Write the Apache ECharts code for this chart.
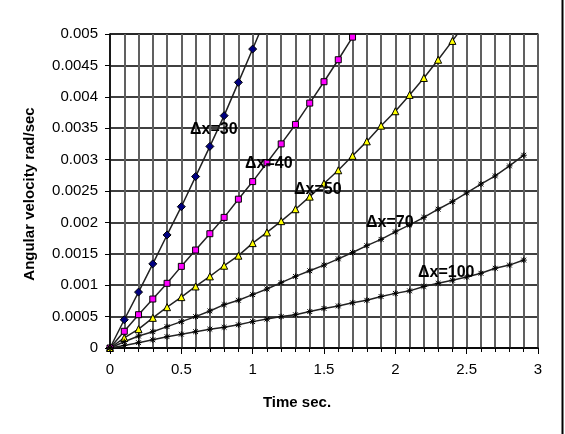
<!DOCTYPE html>
<html>
<head>
<meta charset="utf-8">
<script src="https://cdn.jsdelivr.net/npm/echarts@6/dist/echarts.min.js"></script>
<style>
  html, body { margin: 0; padding: 0; background: #fff; }
  #main { width: 565px; height: 434px; }
</style>
</head>
<body>
<div id="main"></div>
<script>
// time values (sec)
var times = [0, 0.1, 0.2, 0.3, 0.4, 0.5, 0.6, 0.7, 0.8, 0.9, 1.0, 1.1, 1.2, 1.3, 1.4,
             1.5, 1.6, 1.7, 1.8, 1.9, 2.0, 2.1, 2.2, 2.3, 2.4, 2.5, 2.6, 2.7, 2.8, 2.9];

// angular velocity (rad/sec) for each grid spacing
var dx30 = [0, 0.00045, 0.00089, 0.00134, 0.0018, 0.00225, 0.00273, 0.00321, 0.0037, 0.00423,
            0.00476, 0.0053];
var dx40 = [0, 0.000266, 0.00053, 0.00078, 0.00103, 0.0013, 0.00156, 0.00182, 0.00208, 0.00237,
            0.00265, 0.00295, 0.00325, 0.00356, 0.0039, 0.00424, 0.00459, 0.00495, 0.0053];
var dx50 = [0, 0.00016, 0.0003, 0.00048, 0.00065, 0.00081, 0.00098, 0.00114, 0.00131, 0.00147,
            0.00167, 0.00184, 0.00202, 0.00221, 0.00241, 0.00262, 0.00283, 0.00306, 0.00329, 0.00354,
            0.00377, 0.00403, 0.0043, 0.00459, 0.00489, 0.0052];
var dx70 = [0, 0.0001, 0.00019, 0.00026, 0.00034, 0.00042, 0.0005, 0.00059, 0.00069, 0.00076,
            0.00085, 0.00094, 0.00104, 0.00114, 0.00123, 0.00132, 0.00142, 0.00152, 0.00163, 0.00173,
            0.00185, 0.00196, 0.00208, 0.00221, 0.00233, 0.00247, 0.00261, 0.00274, 0.0029, 0.00307];
var dx100 = [0, 0.00004, 0.000085, 0.00013, 0.00018, 0.00022, 0.00026, 0.0003, 0.00033, 0.00037,
             0.00042, 0.00046, 0.0005, 0.00053, 0.00058, 0.00063, 0.00067, 0.00072, 0.00076, 0.00082,
             0.00087, 0.00091, 0.00098, 0.00103, 0.00108, 0.00113, 0.00119, 0.00127, 0.00132, 0.0014];

var seriesNames = ['Δx=30', 'Δx=40', 'Δx=50', 'Δx=70', 'Δx=100'];

function pairs(vals) {
  var out = [];
  for (var i = 0; i < vals.length; i++) out.push([times[i], vals[i]]);
  return out;
}

var starPath = 'path://M0,-5L0,5M-5,0L5,0M-4,-4L4,4M-4,4L4,-4';
var font = 'Liberation Sans, Arial, sans-serif';
var boldFont = 'bold 15px ' + font;

function makeSeries(name, vals, symbol, size, fill) {
  return {
    name: name,
    type: 'line',
    data: pairs(vals),
    clip: true,
    symbol: symbol,
    symbolSize: size,
    showAllSymbol: true,
    lineStyle: { color: '#222', width: 1.5 },
    itemStyle: { color: fill, borderColor: '#000', borderWidth: 1 },
    emphasis: { disabled: true },
    z: 3
  };
}

// series label: left edge x, vertical centre y
function label(text, x, y) {
  return { type: 'text', x: x, y: y, z: 10,
    style: { text: text, font: 'bold 16px ' + font, fill: '#000', verticalAlign: 'middle' } };
}

var chart = echarts.init(document.getElementById('main'));

chart.setOption({
  animation: false,
  backgroundColor: '#fff',
  grid: { left: 110, right: 27, top: 34, bottom: 86, show: true, borderColor: '#808080', borderWidth: 1.5 },
  xAxis: {
    type: 'value',
    min: 0, max: 3, interval: 0.5,
    axisLine: { show: true, onZero: false, lineStyle: { color: '#000', width: 1.5 } },
    axisTick: { show: true, length: 6, lineStyle: { color: '#000', width: 1 } },
    minorTick: { show: true, splitNumber: 5, length: 4, lineStyle: { color: '#000', width: 1 } },
    splitLine: { show: true, lineStyle: { color: '#606060', width: 2 } },
    minorSplitLine: { show: true, lineStyle: { color: '#606060', width: 2 } },
    axisLabel: { color: '#000', fontFamily: font, fontSize: 15, margin: 14 }
  },
  yAxis: {
    type: 'value',
    min: 0, max: 0.005, interval: 0.0005,
    axisLine: { show: true, onZero: false, lineStyle: { color: '#000', width: 1.5 } },
    axisTick: { show: true, length: 5, lineStyle: { color: '#000', width: 1 } },
    splitLine: { show: true, lineStyle: { color: '#000', width: 1.5 } },
    axisLabel: { color: '#000', fontFamily: font, fontSize: 15, margin: 12 }
  },
  series: [
    makeSeries(seriesNames[0], dx30, 'diamond', 8, '#000080'),
    makeSeries(seriesNames[1], dx40, 'rect', 6, '#ff00ff'),
    makeSeries(seriesNames[2], dx50, 'triangle', 7, '#ffff00'),
    makeSeries(seriesNames[3], dx70, starPath, 6, '#000'),
    makeSeries(seriesNames[4], dx100, starPath, 6, '#000')
  ],
  graphic: [
    label(seriesNames[0], 190, 130),
    label(seriesNames[1], 245, 164),
    label(seriesNames[2], 294, 190),
    label(seriesNames[3], 366, 223),
    label(seriesNames[4], 418, 273),
    { type: 'text', x: 30, y: 194, rotation: Math.PI / 2, z: 10,
      style: { text: 'Angular velocity rad/sec', font: boldFont, fill: '#000',
               align: 'center', verticalAlign: 'middle' } },
    { type: 'text', x: 297, y: 403, z: 10,
      style: { text: 'Time sec.', font: boldFont, fill: '#000',
               align: 'center', verticalAlign: 'middle' } },
    { type: 'line', z: 10,
      shape: { x1: 562.5, y1: 0, x2: 562.5, y2: 434 },
      style: { stroke: '#000', lineWidth: 2 } }
  ]
});
</script>
</body>
</html>
